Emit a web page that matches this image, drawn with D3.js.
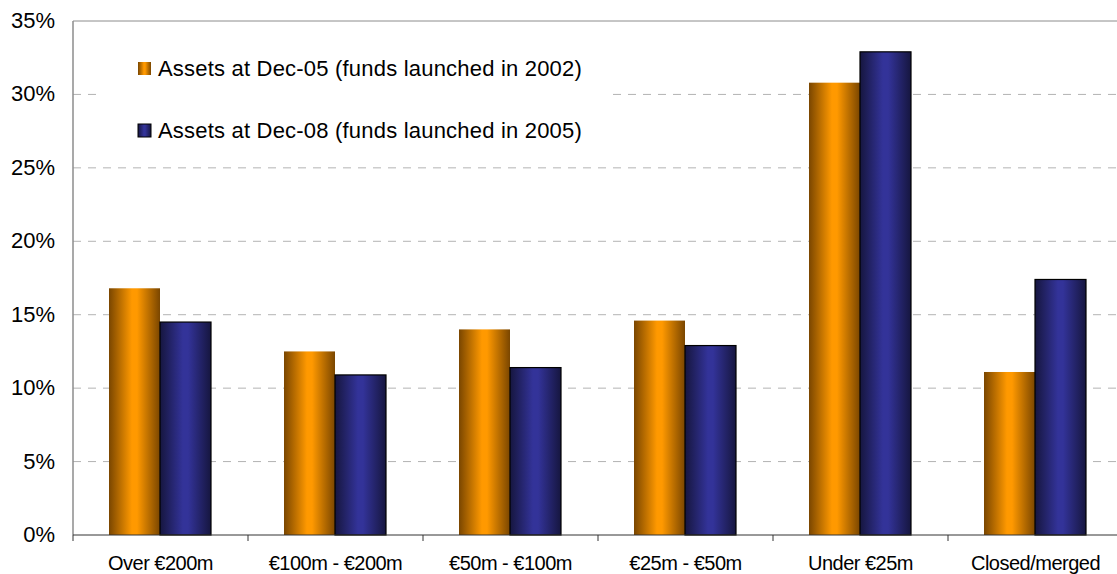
<!DOCTYPE html>
<html>
<head>
<meta charset="utf-8">
<script src="https://cdn.jsdelivr.net/npm/d3@7"></script>
<style>
  body { margin: 0; background: #fff; }
  svg { display: block; font-family: "Liberation Sans", Arial, sans-serif; }
</style>
</head>
<body>
<div id="chart"></div>
<script>
const categories = ["Over €200m", "€100m - €200m", "€50m - €100m", "€25m - €50m", "Under €25m", "Closed/merged"];
const seriesNames = ["Assets at Dec-05 (funds launched in 2002)", "Assets at Dec-08 (funds launched in 2005)"];
const dec05 = [16.8, 12.5, 14.0, 14.6, 30.8, 11.1];
const dec08 = [14.5, 10.9, 11.4, 12.9, 32.9, 17.4];
const yTicks = [0, 5, 10, 15, 20, 25, 30, 35];

const width = 1117, height = 574;
const margin = { top: 21, right: -6, bottom: 39, left: 73 };

const svg = d3.select("#chart")
  .append("svg")
  .attr("width", width)
  .attr("height", height);

const defs = svg.append("defs");
const grad = (id, edge, mid) => {
  const g = defs.append("linearGradient").attr("id", id)
    .attr("x1", "0%").attr("x2", "100%").attr("y1", "0%").attr("y2", "0%");
  g.append("stop").attr("offset", "0%").attr("stop-color", edge);
  g.append("stop").attr("offset", "45%").attr("stop-color", mid);
  g.append("stop").attr("offset", "55%").attr("stop-color", mid);
  g.append("stop").attr("offset", "100%").attr("stop-color", edge);
};
grad("gOrange", "#7a4600", "#ff9900");
grad("gBlue", "#16163f", "#333399");

const x = d3.scaleBand()
  .domain(categories)
  .range([margin.left, width - margin.right]);

const y = d3.scaleLinear()
  .domain([0, 35])
  .range([height - margin.bottom, margin.top]);

// gridlines
svg.append("g")
  .selectAll("line")
  .data(yTicks.filter(d => d > 0 && d < 35))
  .join("line")
  .attr("x1", margin.left)
  .attr("x2", width)
  .attr("y1", d => y(d))
  .attr("y2", d => y(d))
  .attr("stroke", "#b3b3b3")
  .attr("stroke-dasharray", "8,7");

// top border
svg.append("line")
  .attr("x1", margin.left).attr("x2", width)
  .attr("y1", y(35)).attr("y2", y(35))
  .attr("stroke", "#8c8c8c");

const bw = 51;
const off = 36;
const data = categories.map((c, i) => ({ c, v: [dec05[i], dec08[i]] }));

const groups = svg.append("g")
  .selectAll("g")
  .data(data)
  .join("g")
  .attr("transform", d => `translate(${x(d.c) + off},0)`);

groups.append("rect")
  .attr("x", 0)
  .attr("width", bw)
  .attr("y", d => y(d.v[0]))
  .attr("height", d => y(0) - y(d.v[0]))
  .attr("fill", "url(#gOrange)");

groups.append("rect")
  .attr("x", bw)
  .attr("width", bw)
  .attr("y", d => y(d.v[1]))
  .attr("height", d => y(0) - y(d.v[1]))
  .attr("fill", "url(#gBlue)")
  .attr("stroke", "#000")
  .attr("stroke-width", 1.2);

// y axis
svg.append("line")
  .attr("x1", margin.left).attr("x2", margin.left)
  .attr("y1", y(35)).attr("y2", y(0))
  .attr("stroke", "#8c8c8c").attr("stroke-width", 1.5);

svg.append("g")
  .selectAll("text")
  .data(yTicks)
  .join("text")
  .attr("x", 55)
  .attr("y", d => y(d) + 7)
  .attr("text-anchor", "end")
  .attr("font-size", 22)
  .attr("fill", "#000")
  .text(d => d + "%");

// x axis
svg.append("line")
  .attr("x1", margin.left).attr("x2", width)
  .attr("y1", y(0)).attr("y2", y(0))
  .attr("stroke", "#333").attr("stroke-width", 1);

svg.append("g")
  .selectAll("line")
  .data(categories)
  .join("line")
  .attr("x1", d => x(d)).attr("x2", d => x(d))
  .attr("y1", y(0)).attr("y2", y(0) + 6)
  .attr("stroke", "#333");

svg.append("g")
  .selectAll("text")
  .data(categories)
  .join("text")
  .attr("x", d => x(d) + x.bandwidth() / 2)
  .attr("y", 570)
  .attr("text-anchor", "middle")
  .attr("font-size", 20)
  .attr("letter-spacing", -0.5)
  .attr("fill", "#000")
  .text(d => d);

// legend
const legend = svg.append("g");
legend.append("rect")
  .attr("x", 100).attr("y", 40)
  .attr("width", 512).attr("height", 115)
  .attr("fill", "#fff");

const fills = ["url(#gOrange)", "url(#gBlue)"];
const li = legend.selectAll("g")
  .data(seriesNames)
  .join("g")
  .attr("transform", (d, i) => `translate(138,${62 + i * 62})`);

li.append("rect")
  .attr("width", 13).attr("height", 13)
  .attr("fill", (d, i) => fills[i])
  .attr("stroke", (d, i) => i ? "#000" : "none");

li.append("text")
  .attr("x", 20)
  .attr("y", 14)
  .attr("font-size", 22)
  .attr("letter-spacing", 0.2)
  .attr("fill", "#000")
  .text(d => d);
</script>
</body>
</html>
